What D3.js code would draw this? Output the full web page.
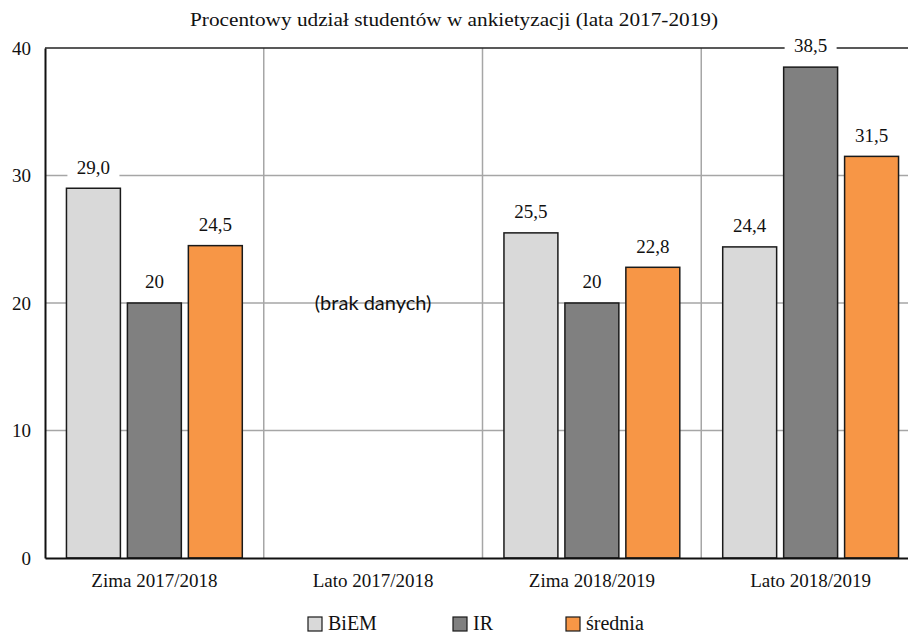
<!DOCTYPE html>
<html>
<head>
<meta charset="utf-8">
<script src="https://cdn.jsdelivr.net/npm/d3@7"></script>
<style>
  body { margin: 0; background: #fff; }
  svg text.serif { font-family: 'Liberation Serif', 'Times New Roman', serif; fill: #111; }
</style>
</head>
<body>
<svg id="chart" width="908" height="635"></svg>
<script>
// dane
const categories = ["Zima 2017/2018", "Lato 2017/2018", "Zima 2018/2019", "Lato 2018/2019"];
const series = ["BiEM", "IR", "średnia"];
const colors = ["#d9d9d9", "#808080", "#f79646"];
const biem   = [29.0, null, 25.5, 24.4];
const ir     = [20,   null, 20,   38.5];
const srednia = [24.5, null, 22.8, 31.5];
const biemLabels = ["29,0", null, "25,5", "24,4"];
const irLabels   = ["20",   null, "20",   "38,5"];
const sredniaLabels = ["24,5", null, "22,8", "31,5"];
const yTicks = [0, 10, 20, 30, 40];
const noDataText = "(brak danych)";
const title = "Procentowy udział studentów w ankietyzacji (lata 2017-2019)";

const values = [biem, ir, srednia];
const labels = [biemLabels, irLabels, sredniaLabels];

const svg = d3.select("#chart");
const plotL = 45, plotR = 920, plotT = 48, plotB = 558;
const serif = "'Liberation Serif', 'Times New Roman', serif";

const x = d3.scaleBand().domain(categories).range([plotL, plotR]);
const xs = d3.scaleBand().domain(series).range([0, x.bandwidth()])
  .paddingInner(0.115).paddingOuter(0.352);
const y = d3.scaleLinear().domain([0, 40]).range([plotB, plotT]);

// siatka pozioma
svg.append("g").selectAll("line")
  .data(yTicks.filter(d => d > 0 && d < 40))
  .join("line")
  .attr("x1", plotL).attr("x2", plotR)
  .attr("y1", d => y(d)).attr("y2", d => y(d))
  .attr("stroke", "#a6a6a6").attr("stroke-width", 1.5);

// siatka pionowa (granice kategorii)
svg.append("g").selectAll("line")
  .data(categories.slice(1))
  .join("line")
  .attr("x1", d => x(d)).attr("x2", d => x(d))
  .attr("y1", plotT).attr("y2", plotB)
  .attr("stroke", "#a6a6a6").attr("stroke-width", 1.5);

// górna linia
svg.append("line")
  .attr("x1", plotL).attr("x2", plotR)
  .attr("y1", y(40)).attr("y2", y(40))
  .attr("stroke", "#222").attr("stroke-width", 1.5);

// słupki
const rows = [];
categories.forEach((c, i) => {
  series.forEach((s, j) => {
    if (values[j][i] != null) rows.push({c, s, j, v: values[j][i], label: labels[j][i]});
  });
});

svg.append("g").selectAll("rect")
  .data(rows)
  .join("rect")
  .attr("x", d => x(d.c) + xs(d.s))
  .attr("y", d => y(d.v))
  .attr("width", xs.bandwidth())
  .attr("height", d => y(0) - y(d.v))
  .attr("fill", d => colors[d.j])
  .attr("stroke", "#1a1a1a").attr("stroke-width", 1.5);

// etykiety wartości z białym tłem
const lab = svg.append("g").selectAll("g")
  .data(rows)
  .join("g")
  .attr("transform", d => `translate(${x(d.c) + xs(d.s) + xs.bandwidth() / 2},${y(d.v) - 21})`);
lab.append("rect")
  .attr("x", -26).attr("y", -11).attr("width", 52).attr("height", 22)
  .attr("fill", "#fff");
lab.append("text")
  .attr("class", "serif")
  .attr("text-anchor", "middle").attr("dy", "0.33em")
  .style("font-family", serif)
  .style("font-size", "19px")
  .text(d => d.label);

// osie
const yAxis = svg.append("g")
  .attr("transform", `translate(${plotL},0)`)
  .call(d3.axisLeft(y).tickValues(yTicks).tickSize(0).tickPadding(14));
yAxis.select(".domain").attr("stroke", "#111").attr("stroke-width", 2);
yAxis.selectAll("text").attr("class", "serif")
  .style("font-size", "19px").style("font-family", serif).attr("fill", "#111");

const xAxis = svg.append("g")
  .attr("transform", `translate(0,${plotB})`)
  .call(d3.axisBottom(x).tickSize(0).tickPadding(16));
xAxis.select(".domain").attr("stroke", "#111").attr("stroke-width", 2);
xAxis.selectAll("text").attr("class", "serif")
  .style("font-size", "19px").style("font-family", serif).attr("fill", "#111");

// brak danych
svg.append("text")
  .attr("x", x(categories[1]) + x.bandwidth() / 2)
  .attr("y", y(20) + 7)
  .attr("text-anchor", "middle")
  .style("font-family", "Lato, sans-serif")
  .style("font-size", "20px")
  .attr("fill", "#111")
  .text(noDataText);

// tytuł
svg.append("text")
  .attr("class", "serif")
  .attr("x", 454).attr("y", 26)
  .attr("text-anchor", "middle")
  .style("font-family", serif)
  .style("font-size", "19px")
  .attr("textLength", 528)
  .attr("lengthAdjust", "spacingAndGlyphs")
  .text(title);

// legenda
const legendX = [308, 453, 566];
const leg = svg.append("g").selectAll("g")
  .data(series)
  .join("g")
  .attr("transform", (d, i) => `translate(${legendX[i]},617)`);
leg.append("rect")
  .attr("width", 14).attr("height", 14)
  .attr("fill", (d, i) => colors[i])
  .attr("stroke", "#1a1a1a").attr("stroke-width", 1.2);
leg.append("text")
  .attr("class", "serif")
  .attr("x", 20).attr("y", 13)
  .style("font-family", serif)
  .style("font-size", "20px")
  .text(d => d);
</script>
</body>
</html>
